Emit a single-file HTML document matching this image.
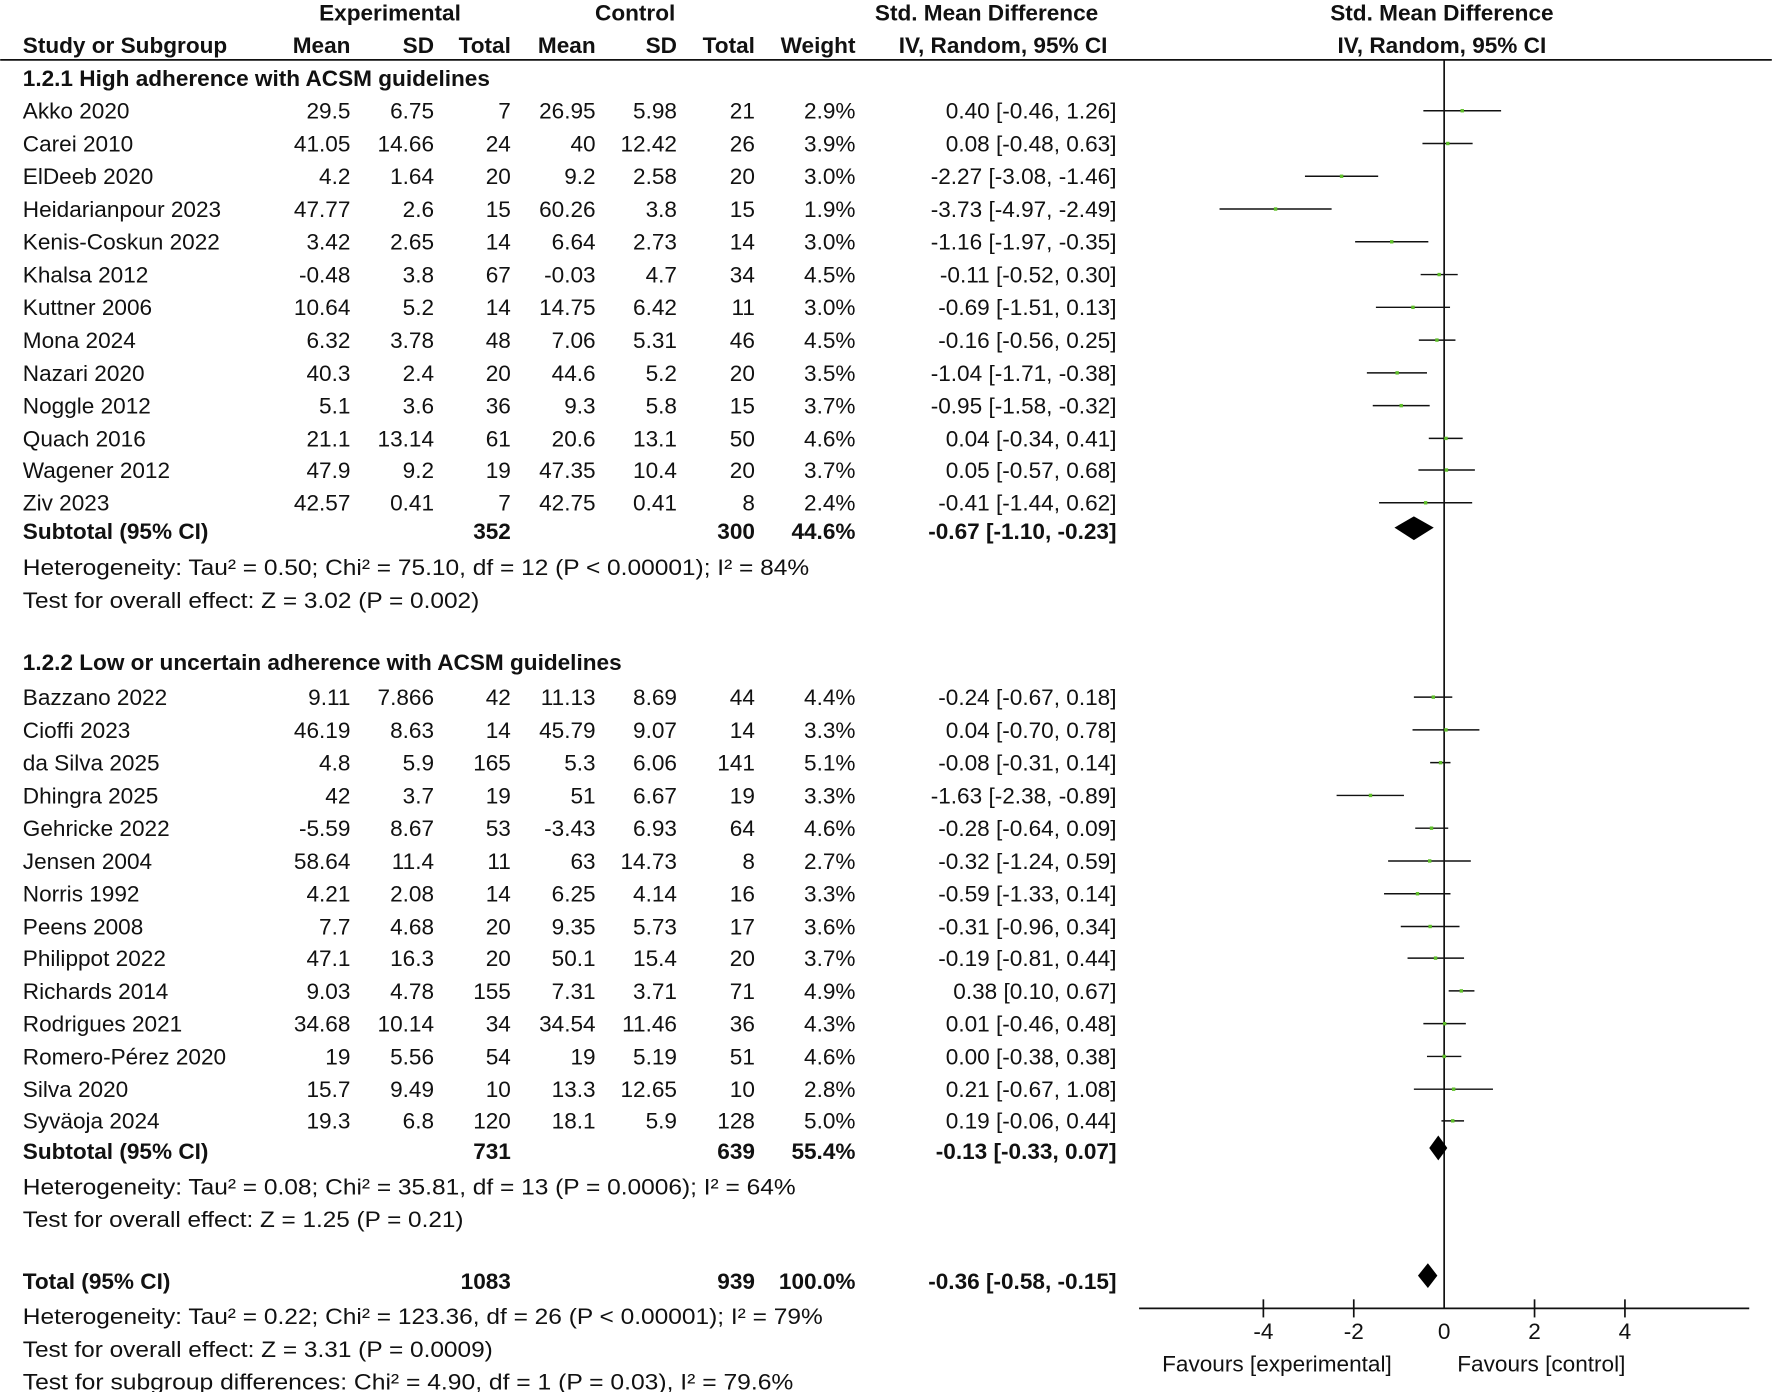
<!DOCTYPE html>
<html><head><meta charset="utf-8"><style>
html,body{margin:0;padding:0;background:#fff}
svg{display:block}
text{font-family:"Liberation Sans",Arial,sans-serif;font-size:20px;fill:#111}
.b{font-weight:bold}
.e{text-anchor:end}
.m{text-anchor:middle}
</style></head><body>
<svg width="1772" height="1392" viewBox="0 0 1568 1232" xmlns="http://www.w3.org/2000/svg">
<rect width="1568" height="1232" fill="#fff"/>
<!-- headers -->
<g class="b">
<text class="b m" x="345" y="18">Experimental</text>
<text class="b m" x="562" y="18">Control</text>
<text class="b m" x="873" y="18">Std. Mean Difference</text>
<text class="b m" x="1276" y="18">Std. Mean Difference</text>
<text class="b" x="20" y="47">Study or Subgroup</text>
<text class="b e" x="310" y="47">Mean</text>
<text class="b e" x="384" y="47">SD</text>
<text class="b e" x="452" y="47">Total</text>
<text class="b e" x="527" y="47">Mean</text>
<text class="b e" x="599" y="47">SD</text>
<text class="b e" x="668" y="47">Total</text>
<text class="b e" x="757" y="47">Weight</text>
<text class="b e" x="980" y="47">IV, Random, 95% CI</text>
<text class="b m" x="1276" y="47">IV, Random, 95% CI</text>
</g>
<line x1="0" y1="53" x2="1568" y2="53" stroke="#111" stroke-width="1.5"/>
<!-- zero line -->
<line x1="1278" y1="53" x2="1278" y2="1158" stroke="#111" stroke-width="1.5"/>
<!-- axis -->
<line x1="1008" y1="1158" x2="1548" y2="1158" stroke="#111" stroke-width="1.5"/>
<g stroke="#111" stroke-width="1.5">
<line x1="1118" y1="1150" x2="1118" y2="1166"/>
<line x1="1198" y1="1150" x2="1198" y2="1166"/>
<line x1="1358" y1="1150" x2="1358" y2="1166"/>
<line x1="1438" y1="1150" x2="1438" y2="1166"/>
</g>
<text class="m" x="1118" y="1185">-4</text>
<text class="m" x="1198" y="1185">-2</text>
<text class="m" x="1278" y="1185">0</text>
<text class="m" x="1358" y="1185">2</text>
<text class="m" x="1438" y="1185">4</text>
<text class="m" x="1130" y="1214">Favours [experimental]</text>
<text class="m" x="1364" y="1214">Favours [control]</text>

<!-- group 1 -->
<text class="b" x="20" y="76">1.2.1 High adherence with ACSM guidelines</text>
<g id="g1">
<text x="20" y="105">Akko 2020</text><text class="e" x="310" y="105">29.5</text><text class="e" x="384" y="105">6.75</text><text class="e" x="452" y="105">7</text><text class="e" x="527" y="105">26.95</text><text class="e" x="599" y="105">5.98</text><text class="e" x="668" y="105">21</text><text class="e" x="757" y="105">2.9%</text><text class="e" x="988" y="105">0.40 [-0.46, 1.26]</text>
<text x="20" y="134">Carei 2010</text><text class="e" x="310" y="134">41.05</text><text class="e" x="384" y="134">14.66</text><text class="e" x="452" y="134">24</text><text class="e" x="527" y="134">40</text><text class="e" x="599" y="134">12.42</text><text class="e" x="668" y="134">26</text><text class="e" x="757" y="134">3.9%</text><text class="e" x="988" y="134">0.08 [-0.48, 0.63]</text>
<text x="20" y="163">ElDeeb 2020</text><text class="e" x="310" y="163">4.2</text><text class="e" x="384" y="163">1.64</text><text class="e" x="452" y="163">20</text><text class="e" x="527" y="163">9.2</text><text class="e" x="599" y="163">2.58</text><text class="e" x="668" y="163">20</text><text class="e" x="757" y="163">3.0%</text><text class="e" x="988" y="163">-2.27 [-3.08, -1.46]</text>
<text x="20" y="192">Heidarianpour 2023</text><text class="e" x="310" y="192">47.77</text><text class="e" x="384" y="192">2.6</text><text class="e" x="452" y="192">15</text><text class="e" x="527" y="192">60.26</text><text class="e" x="599" y="192">3.8</text><text class="e" x="668" y="192">15</text><text class="e" x="757" y="192">1.9%</text><text class="e" x="988" y="192">-3.73 [-4.97, -2.49]</text>
<text x="20" y="221">Kenis-Coskun 2022</text><text class="e" x="310" y="221">3.42</text><text class="e" x="384" y="221">2.65</text><text class="e" x="452" y="221">14</text><text class="e" x="527" y="221">6.64</text><text class="e" x="599" y="221">2.73</text><text class="e" x="668" y="221">14</text><text class="e" x="757" y="221">3.0%</text><text class="e" x="988" y="221">-1.16 [-1.97, -0.35]</text>
<text x="20" y="250">Khalsa 2012</text><text class="e" x="310" y="250">-0.48</text><text class="e" x="384" y="250">3.8</text><text class="e" x="452" y="250">67</text><text class="e" x="527" y="250">-0.03</text><text class="e" x="599" y="250">4.7</text><text class="e" x="668" y="250">34</text><text class="e" x="757" y="250">4.5%</text><text class="e" x="988" y="250">-0.11 [-0.52, 0.30]</text>
<text x="20" y="279">Kuttner 2006</text><text class="e" x="310" y="279">10.64</text><text class="e" x="384" y="279">5.2</text><text class="e" x="452" y="279">14</text><text class="e" x="527" y="279">14.75</text><text class="e" x="599" y="279">6.42</text><text class="e" x="668" y="279">11</text><text class="e" x="757" y="279">3.0%</text><text class="e" x="988" y="279">-0.69 [-1.51, 0.13]</text>
<text x="20" y="308">Mona 2024</text><text class="e" x="310" y="308">6.32</text><text class="e" x="384" y="308">3.78</text><text class="e" x="452" y="308">48</text><text class="e" x="527" y="308">7.06</text><text class="e" x="599" y="308">5.31</text><text class="e" x="668" y="308">46</text><text class="e" x="757" y="308">4.5%</text><text class="e" x="988" y="308">-0.16 [-0.56, 0.25]</text>
<text x="20" y="337">Nazari 2020</text><text class="e" x="310" y="337">40.3</text><text class="e" x="384" y="337">2.4</text><text class="e" x="452" y="337">20</text><text class="e" x="527" y="337">44.6</text><text class="e" x="599" y="337">5.2</text><text class="e" x="668" y="337">20</text><text class="e" x="757" y="337">3.5%</text><text class="e" x="988" y="337">-1.04 [-1.71, -0.38]</text>
<text x="20" y="366">Noggle 2012</text><text class="e" x="310" y="366">5.1</text><text class="e" x="384" y="366">3.6</text><text class="e" x="452" y="366">36</text><text class="e" x="527" y="366">9.3</text><text class="e" x="599" y="366">5.8</text><text class="e" x="668" y="366">15</text><text class="e" x="757" y="366">3.7%</text><text class="e" x="988" y="366">-0.95 [-1.58, -0.32]</text>
<text x="20" y="395">Quach 2016</text><text class="e" x="310" y="395">21.1</text><text class="e" x="384" y="395">13.14</text><text class="e" x="452" y="395">61</text><text class="e" x="527" y="395">20.6</text><text class="e" x="599" y="395">13.1</text><text class="e" x="668" y="395">50</text><text class="e" x="757" y="395">4.6%</text><text class="e" x="988" y="395">0.04 [-0.34, 0.41]</text>
<text x="20" y="423">Wagener 2012</text><text class="e" x="310" y="423">47.9</text><text class="e" x="384" y="423">9.2</text><text class="e" x="452" y="423">19</text><text class="e" x="527" y="423">47.35</text><text class="e" x="599" y="423">10.4</text><text class="e" x="668" y="423">20</text><text class="e" x="757" y="423">3.7%</text><text class="e" x="988" y="423">0.05 [-0.57, 0.68]</text>
<text x="20" y="452">Ziv 2023</text><text class="e" x="310" y="452">42.57</text><text class="e" x="384" y="452">0.41</text><text class="e" x="452" y="452">7</text><text class="e" x="527" y="452">42.75</text><text class="e" x="599" y="452">0.41</text><text class="e" x="668" y="452">8</text><text class="e" x="757" y="452">2.4%</text><text class="e" x="988" y="452">-0.41 [-1.44, 0.62]</text>
</g>
<text class="b" x="20" y="477">Subtotal (95% CI)</text><text class="b e" x="452" y="477">352</text><text class="b e" x="668" y="477">300</text><text class="b e" x="757" y="477">44.6%</text><text class="b e" x="988" y="477">-0.67 [-1.10, -0.23]</text>
<text x="20" y="509" textLength="696" lengthAdjust="spacingAndGlyphs">Heterogeneity: Tau² = 0.50; Chi² = 75.10, df = 12 (P &lt; 0.00001); I² = 84%</text>
<text x="20" y="538" textLength="404" lengthAdjust="spacingAndGlyphs">Test for overall effect: Z = 3.02 (P = 0.002)</text>

<!-- group 2 -->
<text class="b" x="20" y="593">1.2.2 Low or uncertain adherence with ACSM guidelines</text>
<text x="20" y="624">Bazzano 2022</text><text class="e" x="310" y="624">9.11</text><text class="e" x="384" y="624">7.866</text><text class="e" x="452" y="624">42</text><text class="e" x="527" y="624">11.13</text><text class="e" x="599" y="624">8.69</text><text class="e" x="668" y="624">44</text><text class="e" x="757" y="624">4.4%</text><text class="e" x="988" y="624">-0.24 [-0.67, 0.18]</text>
<text x="20" y="653">Cioffi 2023</text><text class="e" x="310" y="653">46.19</text><text class="e" x="384" y="653">8.63</text><text class="e" x="452" y="653">14</text><text class="e" x="527" y="653">45.79</text><text class="e" x="599" y="653">9.07</text><text class="e" x="668" y="653">14</text><text class="e" x="757" y="653">3.3%</text><text class="e" x="988" y="653">0.04 [-0.70, 0.78]</text>
<text x="20" y="682">da Silva 2025</text><text class="e" x="310" y="682">4.8</text><text class="e" x="384" y="682">5.9</text><text class="e" x="452" y="682">165</text><text class="e" x="527" y="682">5.3</text><text class="e" x="599" y="682">6.06</text><text class="e" x="668" y="682">141</text><text class="e" x="757" y="682">5.1%</text><text class="e" x="988" y="682">-0.08 [-0.31, 0.14]</text>
<text x="20" y="711">Dhingra 2025</text><text class="e" x="310" y="711">42</text><text class="e" x="384" y="711">3.7</text><text class="e" x="452" y="711">19</text><text class="e" x="527" y="711">51</text><text class="e" x="599" y="711">6.67</text><text class="e" x="668" y="711">19</text><text class="e" x="757" y="711">3.3%</text><text class="e" x="988" y="711">-1.63 [-2.38, -0.89]</text>
<text x="20" y="740">Gehricke 2022</text><text class="e" x="310" y="740">-5.59</text><text class="e" x="384" y="740">8.67</text><text class="e" x="452" y="740">53</text><text class="e" x="527" y="740">-3.43</text><text class="e" x="599" y="740">6.93</text><text class="e" x="668" y="740">64</text><text class="e" x="757" y="740">4.6%</text><text class="e" x="988" y="740">-0.28 [-0.64, 0.09]</text>
<text x="20" y="769">Jensen 2004</text><text class="e" x="310" y="769">58.64</text><text class="e" x="384" y="769">11.4</text><text class="e" x="452" y="769">11</text><text class="e" x="527" y="769">63</text><text class="e" x="599" y="769">14.73</text><text class="e" x="668" y="769">8</text><text class="e" x="757" y="769">2.7%</text><text class="e" x="988" y="769">-0.32 [-1.24, 0.59]</text>
<text x="20" y="798">Norris 1992</text><text class="e" x="310" y="798">4.21</text><text class="e" x="384" y="798">2.08</text><text class="e" x="452" y="798">14</text><text class="e" x="527" y="798">6.25</text><text class="e" x="599" y="798">4.14</text><text class="e" x="668" y="798">16</text><text class="e" x="757" y="798">3.3%</text><text class="e" x="988" y="798">-0.59 [-1.33, 0.14]</text>
<text x="20" y="827">Peens 2008</text><text class="e" x="310" y="827">7.7</text><text class="e" x="384" y="827">4.68</text><text class="e" x="452" y="827">20</text><text class="e" x="527" y="827">9.35</text><text class="e" x="599" y="827">5.73</text><text class="e" x="668" y="827">17</text><text class="e" x="757" y="827">3.6%</text><text class="e" x="988" y="827">-0.31 [-0.96, 0.34]</text>
<text x="20" y="855">Philippot 2022</text><text class="e" x="310" y="855">47.1</text><text class="e" x="384" y="855">16.3</text><text class="e" x="452" y="855">20</text><text class="e" x="527" y="855">50.1</text><text class="e" x="599" y="855">15.4</text><text class="e" x="668" y="855">20</text><text class="e" x="757" y="855">3.7%</text><text class="e" x="988" y="855">-0.19 [-0.81, 0.44]</text>
<text x="20" y="884">Richards 2014</text><text class="e" x="310" y="884">9.03</text><text class="e" x="384" y="884">4.78</text><text class="e" x="452" y="884">155</text><text class="e" x="527" y="884">7.31</text><text class="e" x="599" y="884">3.71</text><text class="e" x="668" y="884">71</text><text class="e" x="757" y="884">4.9%</text><text class="e" x="988" y="884">0.38 [0.10, 0.67]</text>
<text x="20" y="913">Rodrigues 2021</text><text class="e" x="310" y="913">34.68</text><text class="e" x="384" y="913">10.14</text><text class="e" x="452" y="913">34</text><text class="e" x="527" y="913">34.54</text><text class="e" x="599" y="913">11.46</text><text class="e" x="668" y="913">36</text><text class="e" x="757" y="913">4.3%</text><text class="e" x="988" y="913">0.01 [-0.46, 0.48]</text>
<text x="20" y="942">Romero-Pérez 2020</text><text class="e" x="310" y="942">19</text><text class="e" x="384" y="942">5.56</text><text class="e" x="452" y="942">54</text><text class="e" x="527" y="942">19</text><text class="e" x="599" y="942">5.19</text><text class="e" x="668" y="942">51</text><text class="e" x="757" y="942">4.6%</text><text class="e" x="988" y="942">0.00 [-0.38, 0.38]</text>
<text x="20" y="971">Silva 2020</text><text class="e" x="310" y="971">15.7</text><text class="e" x="384" y="971">9.49</text><text class="e" x="452" y="971">10</text><text class="e" x="527" y="971">13.3</text><text class="e" x="599" y="971">12.65</text><text class="e" x="668" y="971">10</text><text class="e" x="757" y="971">2.8%</text><text class="e" x="988" y="971">0.21 [-0.67, 1.08]</text>
<text x="20" y="999">Syväoja 2024</text><text class="e" x="310" y="999">19.3</text><text class="e" x="384" y="999">6.8</text><text class="e" x="452" y="999">120</text><text class="e" x="527" y="999">18.1</text><text class="e" x="599" y="999">5.9</text><text class="e" x="668" y="999">128</text><text class="e" x="757" y="999">5.0%</text><text class="e" x="988" y="999">0.19 [-0.06, 0.44]</text>
<text class="b" x="20" y="1026">Subtotal (95% CI)</text><text class="b e" x="452" y="1026">731</text><text class="b e" x="668" y="1026">639</text><text class="b e" x="757" y="1026">55.4%</text><text class="b e" x="988" y="1026">-0.13 [-0.33, 0.07]</text>
<text x="20" y="1057" textLength="684" lengthAdjust="spacingAndGlyphs">Heterogeneity: Tau² = 0.08; Chi² = 35.81, df = 13 (P = 0.0006); I² = 64%</text>
<text x="20" y="1086" textLength="390" lengthAdjust="spacingAndGlyphs">Test for overall effect: Z = 1.25 (P = 0.21)</text>

<text class="b" x="20" y="1141">Total (95% CI)</text><text class="b e" x="452" y="1141">1083</text><text class="b e" x="668" y="1141">939</text><text class="b e" x="757" y="1141">100.0%</text><text class="b e" x="988" y="1141">-0.36 [-0.58, -0.15]</text>
<text x="20" y="1172" textLength="708" lengthAdjust="spacingAndGlyphs">Heterogeneity: Tau² = 0.22; Chi² = 123.36, df = 26 (P &lt; 0.00001); I² = 79%</text>
<text x="20" y="1201" textLength="416" lengthAdjust="spacingAndGlyphs">Test for overall effect: Z = 3.31 (P = 0.0009)</text>
<text x="20" y="1230" textLength="682" lengthAdjust="spacingAndGlyphs">Test for subgroup differences: Chi² = 4.90, df = 1 (P = 0.03), I² = 79.6%</text>

<!-- CI lines -->
<g stroke="#111" stroke-width="1.3">
<line x1="1259.6" y1="98" x2="1328.4" y2="98"/>
<line x1="1258.8" y1="127" x2="1303.2" y2="127"/>
<line x1="1154.8" y1="156" x2="1219.6" y2="156"/>
<line x1="1079.2" y1="185" x2="1178.4" y2="185"/>
<line x1="1199.2" y1="214" x2="1264" y2="214"/>
<line x1="1257.2" y1="243" x2="1290" y2="243"/>
<line x1="1217.6" y1="272" x2="1283.2" y2="272"/>
<line x1="1255.6" y1="301" x2="1288" y2="301"/>
<line x1="1209.6" y1="330" x2="1262.8" y2="330"/>
<line x1="1214.8" y1="359" x2="1265.2" y2="359"/>
<line x1="1264.4" y1="388" x2="1294.4" y2="388"/>
<line x1="1255.2" y1="416" x2="1305.2" y2="416"/>
<line x1="1220.4" y1="445" x2="1302.8" y2="445"/>
<line x1="1251.2" y1="617" x2="1285.2" y2="617"/>
<line x1="1250" y1="646" x2="1309.2" y2="646"/>
<line x1="1265.6" y1="675" x2="1283.6" y2="675"/>
<line x1="1182.8" y1="704" x2="1242.4" y2="704"/>
<line x1="1252.4" y1="733" x2="1281.6" y2="733"/>
<line x1="1228.4" y1="762" x2="1301.6" y2="762"/>
<line x1="1224.8" y1="791" x2="1283.6" y2="791"/>
<line x1="1239.6" y1="820" x2="1291.6" y2="820"/>
<line x1="1245.6" y1="848" x2="1295.6" y2="848"/>
<line x1="1282" y1="877" x2="1304.8" y2="877"/>
<line x1="1259.6" y1="906" x2="1297.2" y2="906"/>
<line x1="1262.8" y1="935" x2="1293.2" y2="935"/>
<line x1="1251.2" y1="964" x2="1321.2" y2="964"/>
<line x1="1275.6" y1="992" x2="1295.6" y2="992"/>
</g>
<!-- points -->
<g fill="#5fbf2a">
<rect x="1292.5" y="96.5" width="3" height="3"/>
<rect x="1279.7" y="125.5" width="3" height="3"/>
<rect x="1185.7" y="154.5" width="3" height="3"/>
<rect x="1127.3" y="183.5" width="3" height="3"/>
<rect x="1230.1" y="212.5" width="3" height="3"/>
<rect x="1272.1" y="241.5" width="3" height="3"/>
<rect x="1248.9" y="270.5" width="3" height="3"/>
<rect x="1270.1" y="299.5" width="3" height="3"/>
<rect x="1234.9" y="328.5" width="3" height="3"/>
<rect x="1238.5" y="357.5" width="3" height="3"/>
<rect x="1278.1" y="386.5" width="3" height="3"/>
<rect x="1278.5" y="414.5" width="3" height="3"/>
<rect x="1260.1" y="443.5" width="3" height="3"/>
<rect x="1266.9" y="615.5" width="3" height="3"/>
<rect x="1278.1" y="644.5" width="3" height="3"/>
<rect x="1273.3" y="673.5" width="3" height="3"/>
<rect x="1211.3" y="702.5" width="3" height="3"/>
<rect x="1265.3" y="731.5" width="3" height="3"/>
<rect x="1263.7" y="760.5" width="3" height="3"/>
<rect x="1252.9" y="789.5" width="3" height="3"/>
<rect x="1264.1" y="818.5" width="3" height="3"/>
<rect x="1268.9" y="846.5" width="3" height="3"/>
<rect x="1291.7" y="875.5" width="3" height="3"/>
<rect x="1276.9" y="904.5" width="3" height="3"/>
<rect x="1276.5" y="933.5" width="3" height="3"/>
<rect x="1284.9" y="962.5" width="3" height="3"/>
<rect x="1284.1" y="990.5" width="3" height="3"/>
</g>
<!-- diamonds -->
<g fill="#000">
<polygon points="1234,467 1251.2,457 1268.8,467 1251.2,478"/>
<polygon points="1264.8,1016 1272.8,1005 1280.8,1016 1272.8,1027"/>
<polygon points="1254.8,1129 1263.6,1118 1272,1129 1263.6,1140"/>
</g>
</svg>
</body></html>
